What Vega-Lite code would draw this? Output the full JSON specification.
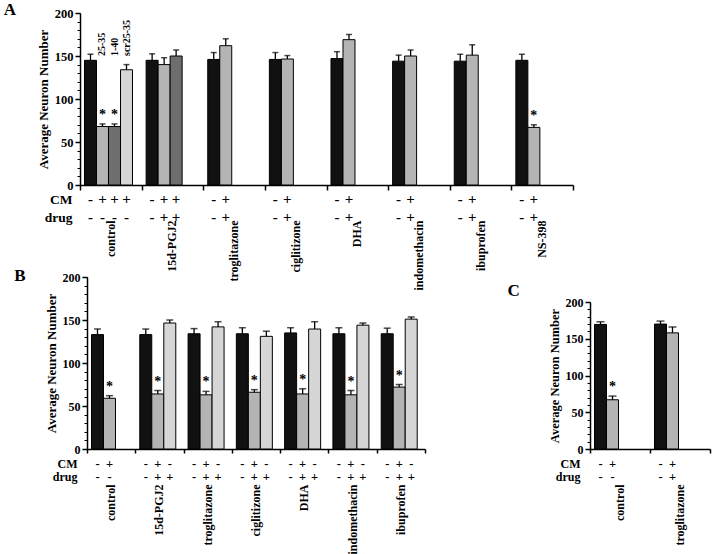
{
  "$schema": "https://vega.github.io/schema/vega-lite/v6.json",
  "padding": {"left": 3, "top": 1, "right": 3, "bottom": 0},
  "datasets": {
    "A": [
      {"group": "control", "slot": 0, "type": "none", "value": 145, "hi": 152, "sig": "", "note": "", "CM": "-", "drug": "-"},
      {"group": "control", "slot": 1, "type": "CM", "value": 68, "hi": 71, "sig": "*", "note": "25-35", "CM": "+", "drug": "-"},
      {"group": "control", "slot": 2, "type": "dots", "value": 68, "hi": 71, "sig": "*", "note": "1-40", "CM": "+", "drug": "-"},
      {"group": "control", "slot": 3, "type": "hatch", "value": 134, "hi": 140, "sig": "", "note": "scr25-35", "CM": "+", "drug": "-"},
      {"group": "15d-PGJ2", "slot": 0, "type": "none", "value": 145, "hi": 152.5, "sig": "", "note": "", "CM": "-", "drug": "-"},
      {"group": "15d-PGJ2", "slot": 1, "type": "CM", "value": 140, "hi": 148, "sig": "", "note": "", "CM": "+", "drug": "+"},
      {"group": "15d-PGJ2", "slot": 2, "type": "dots", "value": 150, "hi": 157, "sig": "", "note": "", "CM": "+", "drug": "+"},
      {"group": "troglitazone", "slot": 0, "type": "none", "value": 146, "hi": 154, "sig": "", "note": "", "CM": "-", "drug": "-"},
      {"group": "troglitazone", "slot": 1, "type": "CM", "value": 162, "hi": 170, "sig": "", "note": "", "CM": "+", "drug": "+"},
      {"group": "ciglitizone", "slot": 0, "type": "none", "value": 146, "hi": 154, "sig": "", "note": "", "CM": "-", "drug": "-"},
      {"group": "ciglitizone", "slot": 1, "type": "CM", "value": 146.5, "hi": 150.5, "sig": "", "note": "", "CM": "+", "drug": "+"},
      {"group": "DHA", "slot": 0, "type": "none", "value": 147, "hi": 155, "sig": "", "note": "", "CM": "-", "drug": "-"},
      {"group": "DHA", "slot": 1, "type": "CM", "value": 169, "hi": 175, "sig": "", "note": "", "CM": "+", "drug": "+"},
      {"group": "indomethacin", "slot": 0, "type": "none", "value": 144, "hi": 151, "sig": "", "note": "", "CM": "-", "drug": "-"},
      {"group": "indomethacin", "slot": 1, "type": "CM", "value": 150, "hi": 157, "sig": "", "note": "", "CM": "+", "drug": "+"},
      {"group": "ibuprofen", "slot": 0, "type": "none", "value": 144, "hi": 152, "sig": "", "note": "", "CM": "-", "drug": "-"},
      {"group": "ibuprofen", "slot": 1, "type": "CM", "value": 151, "hi": 163, "sig": "", "note": "", "CM": "+", "drug": "+"},
      {"group": "NS-398", "slot": 0, "type": "none", "value": 145, "hi": 152, "sig": "", "note": "", "CM": "-", "drug": "-"},
      {"group": "NS-398", "slot": 1, "type": "CM", "value": 67, "hi": 70, "sig": "*", "note": "", "CM": "+", "drug": "+"}
    ],
    "B": [
      {"group": "control", "slot": 0, "type": "none", "value": 133, "hi": 139.5, "sig": "", "CM": "-", "drug": "-"},
      {"group": "control", "slot": 1, "type": "CM", "value": 59, "hi": 62, "sig": "*", "CM": "+", "drug": "-"},
      {"group": "15d-PGJ2", "slot": 0, "type": "none", "value": 133, "hi": 139.5, "sig": "", "CM": "-", "drug": "-"},
      {"group": "15d-PGJ2", "slot": 1, "type": "CM", "value": 64, "hi": 68, "sig": "*", "CM": "+", "drug": "+"},
      {"group": "15d-PGJ2", "slot": 2, "type": "hatch", "value": 146.5, "hi": 150, "sig": "", "CM": "-", "drug": "+"},
      {"group": "troglitazone", "slot": 0, "type": "none", "value": 134, "hi": 140, "sig": "", "CM": "-", "drug": "-"},
      {"group": "troglitazone", "slot": 1, "type": "CM", "value": 63, "hi": 67, "sig": "*", "CM": "+", "drug": "+"},
      {"group": "troglitazone", "slot": 2, "type": "hatch", "value": 142, "hi": 148, "sig": "", "CM": "-", "drug": "+"},
      {"group": "ciglitizone", "slot": 0, "type": "none", "value": 134, "hi": 141, "sig": "", "CM": "-", "drug": "-"},
      {"group": "ciglitizone", "slot": 1, "type": "CM", "value": 66, "hi": 69, "sig": "*", "CM": "+", "drug": "+"},
      {"group": "ciglitizone", "slot": 2, "type": "hatch", "value": 131, "hi": 137, "sig": "", "CM": "-", "drug": "+"},
      {"group": "DHA", "slot": 0, "type": "none", "value": 135, "hi": 141, "sig": "", "CM": "-", "drug": "-"},
      {"group": "DHA", "slot": 1, "type": "CM", "value": 64, "hi": 70, "sig": "*", "CM": "+", "drug": "+"},
      {"group": "DHA", "slot": 2, "type": "hatch", "value": 139.5, "hi": 148, "sig": "", "CM": "-", "drug": "+"},
      {"group": "indomethacin", "slot": 0, "type": "none", "value": 134, "hi": 141, "sig": "", "CM": "-", "drug": "-"},
      {"group": "indomethacin", "slot": 1, "type": "CM", "value": 63, "hi": 68, "sig": "*", "CM": "+", "drug": "+"},
      {"group": "indomethacin", "slot": 2, "type": "hatch", "value": 144, "hi": 146.5, "sig": "", "CM": "-", "drug": "+"},
      {"group": "ibuprofen", "slot": 0, "type": "none", "value": 134, "hi": 140.5, "sig": "", "CM": "-", "drug": "-"},
      {"group": "ibuprofen", "slot": 1, "type": "CM", "value": 72, "hi": 75, "sig": "*", "CM": "+", "drug": "+"},
      {"group": "ibuprofen", "slot": 2, "type": "hatch", "value": 151, "hi": 153.5, "sig": "", "CM": "-", "drug": "+"}
    ],
    "C": [
      {"group": "control", "slot": 0, "type": "none", "value": 169.5, "hi": 173, "sig": "", "CM": "-", "drug": "-"},
      {"group": "control", "slot": 1, "type": "CM", "value": 67, "hi": 72, "sig": "*", "CM": "+", "drug": "-"},
      {"group": "troglitazone", "slot": 0, "type": "none", "value": 170, "hi": 174, "sig": "", "CM": "-", "drug": "-"},
      {"group": "troglitazone", "slot": 1, "type": "CM", "value": 158, "hi": 166, "sig": "", "CM": "+", "drug": "+"}
    ]
  },
  "columns": 2,
  "bounds": "flush",
  "spacing": {"row": 0, "column": 17},
  "concat": [
    {
      "width": 493,
      "height": 172,
      "title": {"text": "A", "orient": "left", "anchor": "end", "frame": "bounds", "angle": 0, "align": "right", "baseline": "top", "offset": 9, "fontSize": 17, "dy": -5},
      "data": {"name": "A"},
      "encoding": {
        "x": {"field": "group", "type": "nominal", "sort": null,
          "scale": {"domain": ["control", "15d-PGJ2", "troglitazone", "ciglitizone", "DHA", "indomethacin", "ibuprofen", "NS-398"], "paddingInner": 0, "paddingOuter": 0},
          "axis": {"labels": false, "title": null, "tickBand": "extent", "tickSize": 5, "domainWidth": 1.5, "tickWidth": 1.5}},
        "xOffset": {"field": "slot", "type": "nominal", "scale": {"domain": [0, 1, 2, 3], "paddingInner": 0, "paddingOuter": 0.567, "align": 0.33}}
      },
      "layer": [
        {
          "mark": {"type": "bar", "stroke": "#000", "strokeWidth": 1},
          "encoding": {
            "y": {"field": "value", "type": "quantitative", "scale": {"domain": [0, 200]},
              "axis": {"values": [0, 50, 100, 150, 200], "title": "Average Neuron Number", "tickSize": 5, "domainWidth": 1.5, "tickWidth": 1.5, "labelFontSize": 12.5}},
            "fill": {"field": "type", "type": "nominal", "scale": {"domain": ["none", "CM", "dots", "hatch"], "range": ["#111111", "#b4b4b4", "#6e6e6e", "#d6d6d6"]}, "legend": null}
          }
        },
        {
          "mark": {"type": "rule", "strokeWidth": 1.3, "color": "#000"},
          "encoding": {
            "y": {"field": "value", "type": "quantitative",
              "axis": {"orient": "left", "values": [0, 10, 20, 30, 40, 50, 60, 70, 80, 90, 100, 110, 120, 130, 140, 150, 160, 170, 180, 190, 200], "labels": false, "domain": false, "title": null, "tickSize": 3}},
            "y2": {"field": "hi"}
          }
        },
        {
          "mark": {"type": "tick", "orient": "horizontal", "size": 6, "thickness": 1.5, "color": "#000"},
          "encoding": {"y": {"field": "hi", "type": "quantitative", "axis": null}}
        },
        {
          "mark": {"type": "text", "fontSize": 14, "baseline": "middle", "dy": -9, "color": "#000"},
          "encoding": {"y": {"field": "hi", "type": "quantitative", "axis": null}, "text": {"field": "sig"}}
        },
        {
          "transform": [{"filter": "datum.note != ''"}],
          "mark": {"type": "text", "fontSize": 10, "angle": 270, "align": "left", "baseline": "middle", "color": "#000"},
          "encoding": {"y": {"datum": 150, "type": "quantitative", "axis": null}, "text": {"field": "note"}}
        }
      ],
      "resolve": {"axis": {"y": "independent"}}
    },
    {
      "width": 1,
      "height": 1,
      "data": {"name": "C"},
      "mark": {"type": "text"},
      "encoding": {"text": {"value": ""}}
    },
    {
      "width": 493,
      "height": 92,
      "data": {"name": "A"},
      "transform": [{"fold": ["CM", "drug"], "as": ["row", "sign"]}],
      "mark": {"type": "text", "fontSize": 15, "baseline": "middle", "color": "#000"},
      "encoding": {
        "x": {"field": "group", "type": "nominal", "sort": null,
          "scale": {"domain": ["control", "15d-PGJ2", "troglitazone", "ciglitizone", "DHA", "indomethacin", "ibuprofen", "NS-398"], "paddingInner": 0, "paddingOuter": 0},
          "axis": {"labelAngle": 270, "domain": false, "ticks": false, "title": null, "labelFontSize": 12, "labelPadding": 0, "labelOverlap": false, "offset": -57}},
        "xOffset": {"field": "slot", "type": "nominal", "scale": {"domain": [0, 1, 2, 3], "paddingInner": 0, "paddingOuter": 0.567, "align": 0.33}},
        "y": {"field": "row", "type": "nominal", "scale": {"domain": ["CM", "drug"], "range": [5, 41], "paddingInner": 0, "paddingOuter": 0},
          "axis": {"title": null, "domain": false, "ticks": false, "labelFontSize": 13.5, "labelPadding": 8}},
        "text": {"field": "sign"}
      }
    },
    {
      "width": 1,
      "height": 1,
      "data": {"name": "C"},
      "mark": {"type": "text"},
      "encoding": {"text": {"value": ""}}
    },
    {
      "width": 345,
      "height": 172,
      "title": {"text": "B", "orient": "left", "anchor": "end", "frame": "bounds", "angle": 0, "align": "right", "baseline": "top", "offset": 8, "fontSize": 17, "dy": -3},
      "data": {"name": "B"},
      "encoding": {
        "x": {"field": "group", "type": "nominal", "sort": null,
          "scale": {"domain": ["control", "15d-PGJ2", "troglitazone", "ciglitizone", "DHA", "indomethacin", "ibuprofen"], "range": [7, 345], "paddingInner": 0, "paddingOuter": 0},
          "axis": {"labels": false, "title": null, "tickBand": "extent", "tickSize": 4, "domainWidth": 1.5, "tickWidth": 1.5}},
        "xOffset": {"field": "slot", "type": "nominal", "scale": {"domain": [0, 1, 2], "paddingInner": 0, "paddingOuter": 0.29, "align": 0.3}}
      },
      "layer": [
        {
          "mark": {"type": "bar", "stroke": "#000", "strokeWidth": 1},
          "encoding": {
            "y": {"field": "value", "type": "quantitative", "scale": {"domain": [0, 200]},
              "axis": {"values": [0, 50, 100, 150, 200], "title": "Average Neuron Number", "tickSize": 5, "domainWidth": 1.5, "tickWidth": 1.5, "labelFontSize": 12, "offset": -7}},
            "fill": {"field": "type", "type": "nominal", "scale": {"domain": ["none", "CM", "dots", "hatch"], "range": ["#111111", "#b4b4b4", "#6e6e6e", "#d6d6d6"]}, "legend": null}
          }
        },
        {
          "mark": {"type": "rule", "strokeWidth": 1.3, "color": "#000"},
          "encoding": {
            "y": {"field": "value", "type": "quantitative",
              "axis": {"orient": "left", "offset": -7, "values": [0, 10, 20, 30, 40, 50, 60, 70, 80, 90, 100, 110, 120, 130, 140, 150, 160, 170, 180, 190, 200], "labels": false, "domain": false, "title": null, "tickSize": 3}},
            "y2": {"field": "hi"}
          }
        },
        {
          "mark": {"type": "tick", "orient": "horizontal", "size": 7, "thickness": 1.5, "color": "#000"},
          "encoding": {"y": {"field": "hi", "type": "quantitative", "axis": null}}
        },
        {
          "mark": {"type": "text", "fontSize": 14, "baseline": "middle", "dy": -9, "color": "#000"},
          "encoding": {"y": {"field": "hi", "type": "quantitative", "axis": null}, "text": {"field": "sig"}}
        }
      ],
      "resolve": {"axis": {"y": "independent"}}
    },
    {
      "width": 120,
      "height": 172,
      "title": {"text": "C", "orient": "left", "anchor": "end", "frame": "bounds", "angle": 0, "align": "right", "baseline": "top", "offset": 16, "fontSize": 17, "dy": 6},
      "data": {"name": "C"},
      "encoding": {
        "x": {"field": "group", "type": "nominal", "sort": null,
          "scale": {"domain": ["control", "troglitazone"], "paddingInner": 0, "paddingOuter": 0},
          "axis": {"labels": false, "title": null, "tickBand": "extent", "tickSize": 4, "domainWidth": 1.5, "tickWidth": 1.5}},
        "xOffset": {"field": "slot", "type": "nominal", "scale": {"domain": [0, 1], "paddingInner": 0, "paddingOuter": 0.667, "align": 0.5}}
      },
      "layer": [
        {
          "mark": {"type": "bar", "stroke": "#000", "strokeWidth": 1},
          "encoding": {
            "y": {"field": "value", "type": "quantitative", "scale": {"domain": [0, 200], "range": [172, 25]},
              "axis": {"values": [0, 50, 100, 150, 200], "title": "Average Neuron Number", "tickSize": 5, "domainWidth": 1.5, "tickWidth": 1.5, "labelFontSize": 12, "titleFontSize": 12.5}},
            "fill": {"field": "type", "type": "nominal", "scale": {"domain": ["none", "CM", "dots", "hatch"], "range": ["#111111", "#b4b4b4", "#6e6e6e", "#d6d6d6"]}, "legend": null}
          }
        },
        {
          "mark": {"type": "rule", "strokeWidth": 1.3, "color": "#000"},
          "encoding": {
            "y": {"field": "value", "type": "quantitative",
              "axis": {"orient": "left", "values": [0, 10, 20, 30, 40, 50, 60, 70, 80, 90, 100, 110, 120, 130, 140, 150, 160, 170, 180, 190, 200], "labels": false, "domain": false, "title": null, "tickSize": 3}},
            "y2": {"field": "hi"}
          }
        },
        {
          "mark": {"type": "tick", "orient": "horizontal", "size": 8, "thickness": 1.5, "color": "#000"},
          "encoding": {"y": {"field": "hi", "type": "quantitative", "axis": null}}
        },
        {
          "mark": {"type": "text", "fontSize": 14, "baseline": "middle", "dy": -9, "color": "#000"},
          "encoding": {"y": {"field": "hi", "type": "quantitative", "axis": null}, "text": {"field": "sig"}}
        }
      ],
      "resolve": {"axis": {"y": "independent"}}
    },
    {
      "width": 345,
      "height": 35,
      "data": {"name": "B"},
      "transform": [{"fold": ["CM", "drug"], "as": ["row", "sign"]}],
      "mark": {"type": "text", "fontSize": 12.5, "baseline": "middle", "color": "#000"},
      "encoding": {
        "x": {"field": "group", "type": "nominal", "sort": null,
          "scale": {"domain": ["control", "15d-PGJ2", "troglitazone", "ciglitizone", "DHA", "indomethacin", "ibuprofen"], "range": [7, 345], "paddingInner": 0, "paddingOuter": 0},
          "axis": {"labelAngle": 270, "domain": false, "ticks": false, "title": null, "labelFontSize": 12, "labelPadding": 0, "labelOverlap": false}},
        "xOffset": {"field": "slot", "type": "nominal", "scale": {"domain": [0, 1, 2], "paddingInner": 0, "paddingOuter": 0.29, "align": 0.3}},
        "y": {"field": "row", "type": "nominal", "scale": {"domain": ["CM", "drug"], "range": [8, 34], "paddingInner": 0, "paddingOuter": 0},
          "axis": {"title": null, "domain": false, "ticks": false, "labelFontSize": 12, "labelPadding": 10, "offset": -7}},
        "text": {"field": "sign"}
      }
    },
    {
      "width": 120,
      "height": 35,
      "data": {"name": "C"},
      "transform": [{"fold": ["CM", "drug"], "as": ["row", "sign"]}],
      "mark": {"type": "text", "fontSize": 12.5, "baseline": "middle", "color": "#000"},
      "encoding": {
        "x": {"field": "group", "type": "nominal", "sort": null,
          "scale": {"domain": ["control", "troglitazone"], "paddingInner": 0, "paddingOuter": 0},
          "axis": {"labelAngle": 270, "domain": false, "ticks": false, "title": null, "labelFontSize": 12, "labelPadding": 0, "labelOverlap": false}},
        "xOffset": {"field": "slot", "type": "nominal", "scale": {"domain": [0, 1], "paddingInner": 0, "paddingOuter": 0.667, "align": 0.5}},
        "y": {"field": "row", "type": "nominal", "scale": {"domain": ["CM", "drug"], "range": [8, 34], "paddingInner": 0, "paddingOuter": 0},
          "axis": {"title": null, "domain": false, "ticks": false, "labelFontSize": 12, "labelPadding": 10}},
        "text": {"field": "sign"}
      }
    }
  ],
  "config": {
    "view": {"stroke": null},
    "font": "Liberation Serif",
    "background": "#ffffff",
    "axis": {"labelFont": "Liberation Serif", "labelFontWeight": "bold", "labelFontSize": 13, "titleFont": "Liberation Serif", "titleFontWeight": "bold", "titleFontSize": 13, "labelColor": "#000", "titleColor": "#000", "domainColor": "#000", "tickColor": "#000", "grid": false},
    "title": {"font": "Liberation Serif", "fontWeight": "bold", "color": "#000"},
    "text": {"font": "Liberation Serif", "fontWeight": "bold"}
  }
}
